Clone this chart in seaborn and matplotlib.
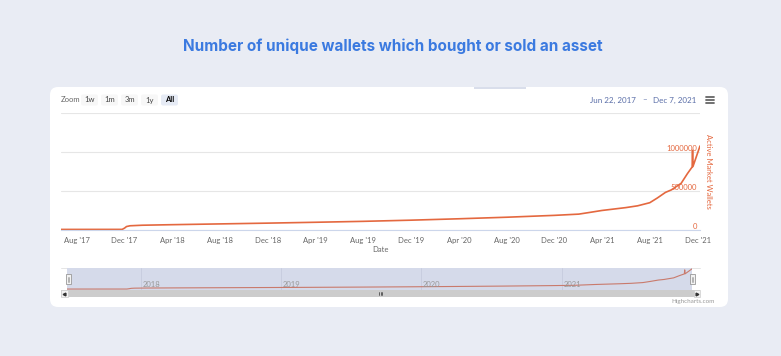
import matplotlib
matplotlib.use("Agg")
import matplotlib.pyplot as plt
import matplotlib.dates as mdates
from matplotlib.patches import FancyBboxPatch, Rectangle
import pandas as pd
import seaborn as sns

# Values (active market wallets per day)
dates = ["2017-06-22", "2017-11-25", "2017-12-01", "2017-12-06", "2017-12-15",
         "2018-01-15", "2018-04-01", "2018-08-01", "2018-12-01", "2019-04-01",
         "2019-08-01", "2019-12-01", "2020-04-01", "2020-08-01", "2020-12-01",
         "2021-02-01", "2021-03-01", "2021-04-01", "2021-06-01", "2021-07-01",
         "2021-08-01", "2021-08-20", "2021-09-10", "2021-09-25", "2021-10-20",
         "2021-11-05", "2021-11-17", "2021-11-18", "2021-11-19", "2021-12-07"]
wallets = [1000, 1500, 18000, 38000, 48000,
           55000, 62000, 72000, 82000, 93000,
           105000, 120000, 138000, 158000, 182000,
           198000, 220000, 245000, 282000, 305000,
           345000, 405000, 478000, 510000, 595000,
           720000, 805000, 1020000, 810000, 1075000]
y_ticks = [0, 500000, 1000000, 1500000]
y_labels = ["0", "500000", "1000000"]
zoom_buttons = ["1w", "1m", "3m", "1y", "All"]
nav_years = ["2018", "2019", "2020", "2021"]

title = "Number of unique wallets which bought or sold an asset"
line_color = "#e4683f"

df = pd.DataFrame({"date": pd.to_datetime(dates), "wallets": wallets})
start, end = pd.Timestamp("2017-06-22"), pd.Timestamp("2021-12-07")

sns.set_style("white")
plt.rcParams["font.family"] = ["Lato", "DejaVu Sans"]

W, H = 781, 356
fig = plt.figure(figsize=(W / 100, H / 100), dpi=100)
fig.patch.set_facecolor("#e9ecf4")


def px_axes(x0, y0, x1, y1):
    return fig.add_axes([x0 / W, 1 - y1 / H, (x1 - x0) / W, (y1 - y0) / H])


# background layer in pixel coordinates
bg = fig.add_axes([0, 0, 1, 1], zorder=0)
bg.set_xlim(0, W)
bg.set_ylim(H, 0)
bg.axis("off")
bg.add_patch(FancyBboxPatch((50, 87), 678, 220, boxstyle="round,pad=0,rounding_size=8",
                            fc="white", ec="none"))
bg.add_patch(Rectangle((474, 86.5), 52, 2, fc="#d9deeb", ec="none"))

bg.text(W / 2 + 2, 46, title, ha="center", va="center", fontsize=11,
        fontweight="bold", color="#3b7ae0", family=["Inter", "DejaVu Sans"])

# range selector
bg.text(61, 100, "Zoom", ha="left", va="center", fontsize=5.5, color="#666666")
for i, b in enumerate(zoom_buttons):
    x0 = 81 + i * 20
    sel = b == "All"
    bg.add_patch(FancyBboxPatch((x0, 94.5), 17, 11, boxstyle="round,pad=0,rounding_size=2",
                                fc="#e6ebf5" if sel else "#f7f7f7", ec="none"))
    bg.text(x0 + 8.5, 100, b, ha="center", va="center", fontsize=5.5,
            color="#000000" if sel else "#444444", fontweight="bold" if sel else "normal")
bg.text(636, 100, "Jun 22, 2017", ha="right", va="center", fontsize=5.8, color="#5a6ea8")
bg.text(645, 100, "–", ha="center", va="center", fontsize=5.8, color="#5a6ea8")
bg.text(653, 100, "Dec 7, 2021", ha="left", va="center", fontsize=5.8, color="#5a6ea8")
for yy in (97, 100, 103):
    bg.plot([705.5, 713.5], [yy, yy], color="#666666", lw=1.3)

# main chart
ax = px_axes(61, 113, 700, 229.5)
ax.set_zorder(1)
sns.lineplot(data=df, x="date", y="wallets", ax=ax, color=line_color, lw=1.2)
ax.set_xlim(start, end)
ax.set_ylim(0, 1500000)
ax.set_yticks(y_ticks)
ax.grid(axis="y", color="#e6e6e6", lw=0.8)
ax.tick_params(axis="y", length=0, labelleft=False)
for s in ("top", "left", "right"):
    ax.spines[s].set_visible(False)
ax.spines["bottom"].set_color("#ccd6eb")
ax.spines["bottom"].set_linewidth(0.8)
ax.xaxis.set_major_locator(mdates.MonthLocator(bymonth=[4, 8, 12]))
ax.xaxis.set_major_formatter(mdates.DateFormatter("%b '%y"))
ax.tick_params(axis="x", length=4, width=0.8, color="#ccd6eb", labelsize=5.5,
               labelcolor="#666666", pad=1.5)
ax.set_xlabel("")
ax.set_ylabel("")
for v, lab in zip(y_ticks, y_labels):
    ax.annotate(lab, xy=(1, v), xycoords=("axes fraction", "data"), xytext=(-3, 3),
                textcoords="offset pixels", ha="right", va="center", fontsize=5.5,
                color=line_color)
bg.text(708, 171, "Active Market Wallets", rotation=-90, ha="center", va="center",
        fontsize=5.5, color=line_color)
bg.text(380.5, 249, "Date", ha="center", va="center", fontsize=5.5, color="#666666")

# navigator
bg.plot([61, 700], [268, 268], color="#e0e0e0", lw=0.6)
nav = px_axes(67, 268, 692, 290)
nav.set_zorder(1)
nav.set_facecolor("#d5daea")
sns.lineplot(data=df, x="date", y="wallets", ax=nav, color="#c97a6c", lw=0.8)
nav.set_xlim(start, end)
nav.set_ylim(-50000, 1120000)
nav.set_yticks([])
nav.set_xticks(pd.to_datetime([y + "-01-01" for y in nav_years]))
nav.set_xticklabels([])
nav.tick_params(axis="x", length=0)
nav.grid(axis="x", color="#c6cbdd", lw=0.6)
nav.set_xlabel("")
nav.set_ylabel("")
for s in nav.spines.values():
    s.set_visible(False)
for yr in nav_years:
    nav.annotate(yr, xy=(pd.Timestamp(yr + "-01-01"), 0), xycoords=("data", "axes fraction"),
                 xytext=(2, 2), textcoords="offset pixels", ha="left", va="bottom",
                 fontsize=5.5, color="#999999")

# navigator handles
top = fig.add_axes([0, 0, 1, 1], zorder=2)
top.set_xlim(0, W)
top.set_ylim(H, 0)
top.axis("off")
for hx in (65.5, 689.5):
    top.add_patch(Rectangle((hx, 274), 5, 10, fc="#f2f2f2", ec="#999999", lw=0.6))
    top.plot([hx + 2, hx + 2], [276.5, 281.5], color="#999999", lw=0.5)
    top.plot([hx + 3, hx + 3], [276.5, 281.5], color="#999999", lw=0.5)

# scrollbar
top.add_patch(Rectangle((61, 290), 639, 7, fc="#cccccc", ec="none"))
top.add_patch(Rectangle((61, 290), 6.5, 7, fc="#f2f2f2", ec="#cccccc", lw=0.5))
top.add_patch(Rectangle((693.5, 290), 6.5, 7, fc="#f2f2f2", ec="#cccccc", lw=0.5))
top.plot([64.2], [293.5], marker="<", ms=2, color="#333333")
top.plot([696.8], [293.5], marker=">", ms=2, color="#333333")
for gx in (379, 380.5, 382):
    top.plot([gx, gx], [292, 295], color="#333333", lw=0.5)

top.text(715, 301.5, "Highcharts.com", ha="right", va="center", fontsize=4.5, color="#999999")

fig.savefig("out.png", dpi=100, facecolor=fig.get_facecolor())
